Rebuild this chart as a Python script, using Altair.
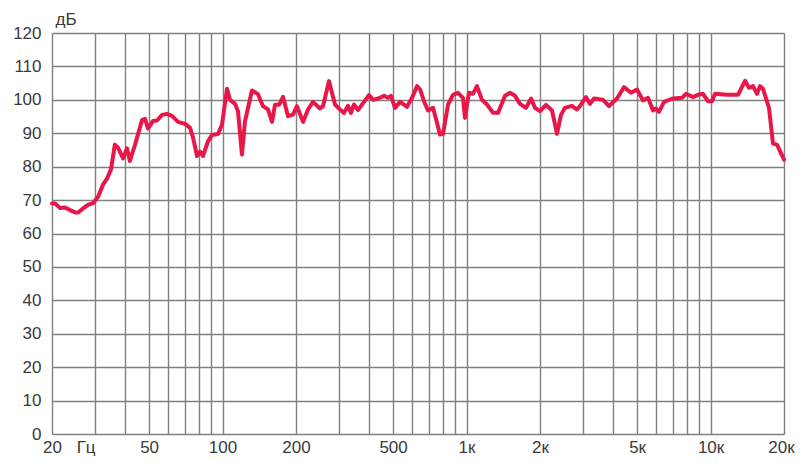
import altair as alt
import pandas as pd

# Frequency response (Hz, dB)
freq_hz = [
    20, 20.6, 21.6, 22.6, 23.7, 24.9, 25.6, 26.8, 28.1, 29.4,
    30.9, 32.4, 33.6, 34.9, 36.2, 37.3, 39.1, 40.6, 41.7, 43.8,
    46.8, 48.1, 49.5, 51.9, 53.9, 56.5, 59.2, 62.1, 65.7, 70.2,
    73.6, 75.7, 78.6, 80.9, 83.1, 87.2, 90.5, 95.8, 99.5, 104.3,
    107.3, 112.5, 115.7, 120.1, 123.6, 132, 139.7, 146.5, 153.6, 159.5,
    164, 170.4, 176.9, 185.5, 194.4, 201.9, 213.7, 224, 234.8, 250.8,
    258, 273, 289, 303, 314.6, 326.8, 336, 345.8, 359, 398,
    413.8, 433.8, 459, 476, 490, 509, 534, 570, 598, 627,
    645, 669, 695, 729, 757, 778, 801, 840, 880, 922,
    967, 985, 1023, 1063, 1103, 1157, 1213, 1284, 1346, 1438,
    1507, 1580, 1656, 1752, 1838, 1908, 2000, 2116, 2240, 2348,
    2438, 2532, 2704, 2836, 2916, 3086, 3206, 3330, 3624, 3836,
    4136, 4420, 4720, 4996, 5286, 5542, 5810, 5976, 6148, 6446,
    7018, 7638, 7932, 8472, 8882, 9312, 9762, 10138, 10428, 11680,
    12958, 13842, 14376, 14930, 15500, 15946, 16404, 17358, 18026, 18722,
    20000,
]
level_db = [
    69.0, 69.0, 67.6, 67.8, 67.0, 66.3, 66.3, 67.5, 68.6, 69.0,
    71.0, 74.7, 76.4, 79.2, 86.6, 85.7, 82.5, 85.5, 81.7, 86.6,
    94.0, 94.3, 91.4, 93.7, 93.8, 95.5, 95.8, 95.2, 93.4, 92.8,
    91.6, 88.7, 83.2, 84.5, 83.2, 87.6, 89.5, 89.8, 92.6, 103.3,
    100.0, 98.8, 96.6, 83.6, 93.6, 102.8, 101.7, 98.1, 97.1, 93.4,
    98.5, 98.5, 100.9, 95.1, 95.6, 98.1, 93.4, 97.1, 99.4, 97.4,
    98.1, 105.6, 98.6, 97.1, 96.1, 98.2, 96.1, 98.6, 96.9, 101.4,
    100.0, 100.4, 101.2, 100.6, 101.2, 97.6, 99.4, 97.9, 100.6, 104.1,
    103.1, 99.6, 96.8, 97.6, 93.1, 89.6, 89.8, 98.6, 101.5, 102.1,
    100.6, 94.6, 102.1, 101.8, 104.1, 100.0, 98.6, 96.1, 96.1, 101.2,
    102.1, 101.2, 98.8, 97.6, 100.4, 97.6, 96.6, 98.5, 96.8, 89.8,
    95.5, 97.6, 98.2, 97.1, 98.1, 100.8, 98.8, 100.4, 100.0, 98.1,
    100.4, 103.8, 102.1, 103.1, 99.8, 100.6, 96.8, 97.4, 96.4, 99.4,
    100.4, 100.6, 101.8, 100.8, 101.5, 101.8, 99.6, 99.6, 101.8, 101.5,
    101.5, 105.7, 103.6, 104.1, 101.8, 104.1, 103.3, 97.6, 86.9, 86.6,
    82.1,
]

# Axis grid/tick values
x_grid = [20, 30, 40, 50, 60, 70, 80, 90, 100,
          200, 300, 400, 500, 600, 700, 800, 900, 1000,
          2000, 3000, 4000, 5000, 6000, 7000, 8000, 9000, 10000, 20000]
x_label_values = [20, 50, 100, 200, 500, 1000, 2000, 5000, 10000, 20000]
x_label_texts = ["20", "50", "100", "200", "500", "1к", "2к", "5к", "10к", "20к"]
y_ticks = [0, 10, 20, 30, 40, 50, 60, 70, 80, 90, 100, 110, 120]
x_unit = "Гц"
y_unit = "дБ"

df = pd.DataFrame({"f": freq_hz, "db": level_db})

label_expr = " : ".join(
    f"datum.value == {v} ? '{t}'" for v, t in zip(x_label_values, x_label_texts)
) + " : ''"

FONT = "Liberation Sans"
TXT = "#3a3a3a"
GRID = "#808080"
W, H = 732, 401

x_scale = alt.Scale(type="log", domain=[20, 20000], nice=False)

line = alt.Chart(df).mark_line(
    color="#e8174a", strokeWidth=4, strokeJoin="round", strokeCap="round"
).encode(
    x=alt.X("f:Q", scale=x_scale, axis=alt.Axis(
        values=x_grid, labelExpr=label_expr, grid=True, gridColor=GRID,
        gridWidth=1.4, gridOpacity=1, domain=False, ticks=False,
        labelPadding=5, labelFontSize=17, labelFont=FONT, labelColor=TXT,
        labelOverlap=False, labelFlush=False,
        labelOffset={"condition": {"test": "datum.value == 20000", "value": -3}, "value": 0},
        title=None)),
    y=alt.Y("db:Q", scale=alt.Scale(domain=[0, 120], nice=False), axis=alt.Axis(
        values=y_ticks, grid=True, gridColor=GRID, gridWidth=1.4, gridOpacity=1,
        domain=False, ticks=False, labelPadding=11, labelFontSize=17,
        labelFont=FONT, labelColor=TXT, title=y_unit, titleAngle=0,
        titleAlign="left", titleBaseline="middle", titleX=3, titleY=-14,
        titleFontSize=17, titleFont=FONT, titleFontWeight="normal",
        titleColor=TXT)),
)

unit = alt.Chart(pd.DataFrame({"t": [x_unit], "f": [27.6]})).mark_text(
    font=FONT, fontSize=17, color=TXT, baseline="middle", align="center"
).encode(
    x=alt.X("f:Q", scale=x_scale),
    y=alt.value(H + 14),
    text="t:N",
)

chart = alt.layer(line, unit).properties(
    width=W, height=H,
    autosize=alt.AutoSizeParams(type="none"),
    padding={"left": 44, "top": 25, "right": 13, "bottom": 25},
).configure_view(stroke="#7a7a7a", strokeWidth=2.5).configure(background="white")

chart.save("out.html", embed_options={"renderer": "svg", "actions": False})
